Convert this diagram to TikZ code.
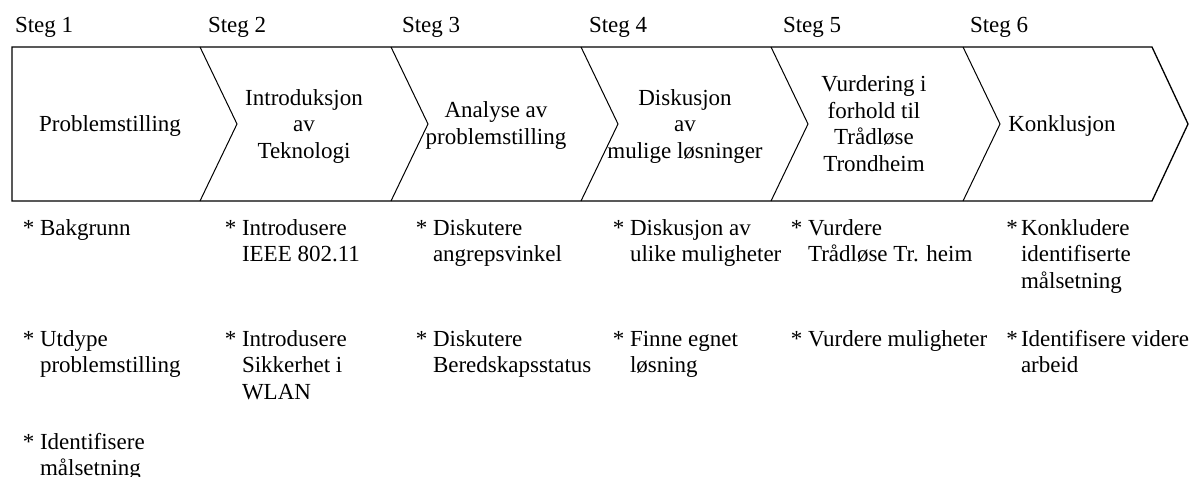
\documentclass[tikz,border=0pt]{standalone}
\usepackage{fontspec}
\setmainfont{Liberation Serif}
\begin{document}
\begin{tikzpicture}[x=0.5pt,y=-0.5pt,
  every node/.style={inner sep=0pt,outer sep=0pt,
    font=\fontsize{11.5pt}{13.25pt}\selectfont},
  frame/.style={draw=black,line width=0.65pt,line join=miter},
  chev/.style={draw=black,line width=0.5pt},
  steglbl/.style={anchor=base west},
  stagetext/.style={anchor=base,align=center},
  item/.style={anchor=base west,align=left}]
\useasboundingbox (0,0) rectangle (1203,476);

% outer frame of the process arrow
\draw[frame] (12,47) -- (1152,47) -- (1188,124) -- (1152,201) -- (12,201) -- cycle;
% separators between the stages
\foreach \x in {200,391,581,771,963}
  \draw[chev] (\x,47) -- (\x+37,124) -- (\x,201);

% step headings
\node[steglbl] (s1) at (15,33)  {Steg 1};
\node[steglbl] (s2) at (208,33) {Steg 2};
\node[steglbl] (s3) at (402,33) {Steg 3};
\node[steglbl] (s4) at (589,33) {Steg 4};
\node[steglbl] (s5) at (783,33) {Steg 5};
\node[steglbl] (s6) at (970,33) {Steg 6};

% stage titles (coordinates give the baseline of the last line)
\node[stagetext] (t1) at (110,131.5)  {Problemstilling};
\node[stagetext] (t2) at (304,158)    {Introduksjon\\av\\Teknologi};
\node[stagetext] (t3) at (496,144.5)  {Analyse av\\problemstilling};
\node[stagetext] (t4) at (685,158)    {Diskusjon\\av\\mulige løsninger};
\node[stagetext] (t5) at (874,171.25) {Vurdering i\\forhold til\\Trådløse\\Trondheim};
\node[stagetext] (t6) at (1062,131.5) {Konklusjon};

% activities per step (coordinates give the baseline of the last line)
\newcommand{\bul}{\llap{*\ }}
\newcommand{\bulnarrow}{\llap{*\hspace{1.6pt}}}
\node[item] (a11) at (40,235)   {\bul Bakgrunn};
\node[item] (a12) at (40,372.5) {\bul Utdype\\problemstilling};
\node[item] (a13) at (40,475.5) {\bul Identifisere\\målsetning};

\node[item] (a21) at (242,261.5) {\bul Introdusere\\IEEE 802.11};
\node[item] (a22) at (242,399)   {\bul Introdusere\\Sikkerhet i\\WLAN};

\node[item] (a31) at (433,261.5) {\bul Diskutere\\angrepsvinkel};
\node[item] (a32) at (433,372.5) {\bul Diskutere\\Beredskapsstatus};

\node[item] (a41) at (630,261.5) {\bul Diskusjon av\\ulike muligheter};
\node[item] (a42) at (630,372.5) {\bul Finne egnet\\løsning};

\node[item] (a51) at (808,261.5) {\bul Vurdere\\Trådløse Tr. heim};
\node[item] (a52) at (808,346)   {\bul Vurdere muligheter};

\node[item] (a61) at (1021,288)   {\bulnarrow Konkludere\\identifiserte\\målsetning};
\node[item] (a62) at (1021,372.5) {\bulnarrow Identifisere videre\\arbeid};
\end{tikzpicture}
\end{document}
